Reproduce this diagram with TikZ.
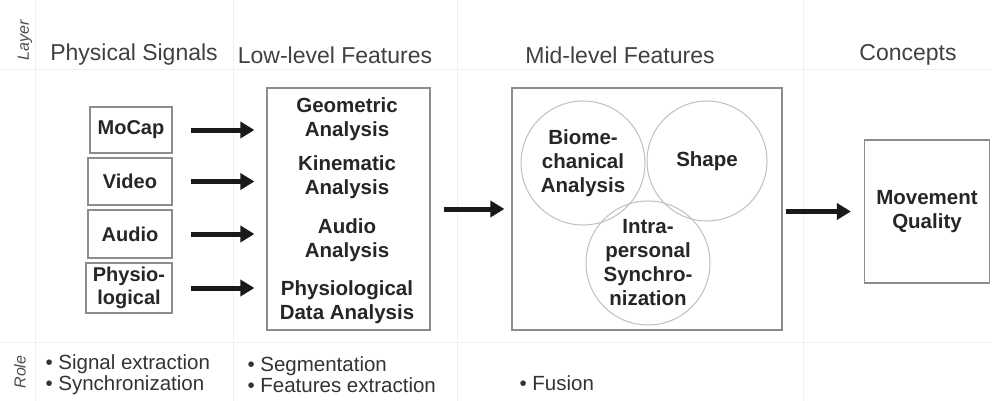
\documentclass[tikz,border=0pt]{standalone}
\usepackage{fontspec}
\setmainfont{Liberation Sans}
\usetikzlibrary{arrows.meta}

\begin{document}
\begin{tikzpicture}[x=1pt, y=-1pt,
    head/.style={font=\fontsize{23}{25}\selectfont, text=black!75},
    sigbox/.style={draw=black!45, line width=1.2pt, inner sep=0pt, align=center, font=\bfseries\fontsize{20}{23}\selectfont, text=black!85},
    feat/.style={align=center, font=\bfseries\fontsize{20.5}{24}\selectfont, text=black!85},
    bigbox/.style={draw=black!45, line width=1.2pt, inner sep=0pt},
    blob/.style={circle, draw=black!25, line width=1pt, inner sep=0pt, minimum size=124pt},
    flow/.style={-{Triangle[length=14pt,width=16pt]}, line width=5pt, black!90},
    role/.style={anchor=west, align=left, font=\fontsize{20.5}{21}\selectfont, text=black!80},
    side/.style={rotate=90, font=\itshape\fontsize{16}{18}\selectfont, text=black!70},
    grid/.style={black!6, line width=1pt}]
    \useasboundingbox (0,0) rectangle (992,401);
    \draw[grid] (0,70) -- (992,70);
    \draw[grid] (0,342) -- (992,342);
    \foreach \gx in {35,233,457,803}
        \draw[grid] (\gx,0) -- (\gx,401);

    \node[side] (layer) at (25,40) {Layer};
    \node[side] (role) at (20,372) {Role};

    \node[head] (hsig) at (134,55) {Physical Signals};
    \node[head] (hlow) at (335,55) {Low-level Features};
    \node[head] (hmid) at (620,55) {Mid-level Features};
    \node[head] (hcon) at (908,55) {Concepts};

    \node[sigbox, minimum width=82pt, minimum height=46pt] (mocap) at (131,130) {MoCap};
    \node[sigbox, minimum width=84pt, minimum height=47pt] (video) at (130,181.5) {Video};
    \node[sigbox, minimum width=84pt, minimum height=48pt] (audio) at (130,234) {Audio};
    \node[sigbox, minimum width=86pt, minimum height=50pt] (physio) at (129,288) {Physio-\\logical};

    \node[bigbox, minimum width=163pt, minimum height=242pt] (low) at (348.5,209) {};
    \node[feat] (geo) at (347,119) {Geometric\\Analysis};
    \node[feat] (kin) at (347,177) {Kinematic\\Analysis};
    \node[feat] (aud) at (347,240) {Audio\\Analysis};
    \node[feat] (phy) at (347,302) {Physiological\\Data Analysis};

    \node[bigbox, minimum width=270pt, minimum height=242pt] (mid) at (647,209) {};
    \node[blob, feat] (bio) at (583,163) {Biome-\\chanical\\Analysis};
    \node[blob, feat, minimum size=120pt] (shape) at (707,161) {Shape};
    \node[blob, feat] (intra) at (648,263) {Intra-\\personal\\Synchro-\\nization};

    \node[bigbox, feat, minimum width=125pt, minimum height=143pt] (quality) at (927,211.5) {Movement\\Quality};

    \foreach \src/\tgt in {mocap/geo, video/kin, audio/aud, physio/phy}
        \draw[flow, shorten <=18pt, shorten >=12pt] (\src.east) -- (\src.east -| low.west);
    \draw[flow, shorten <=13pt, shorten >=7pt] (low.east |- mid.west) -- (mid.west);
    \draw[flow, shorten <=3pt, shorten >=13pt] (mid.east |- quality.west) -- (quality.west);

    \node[role] (rsig) at (42,375) {\textbullet\ Signal extraction\\\textbullet\ Synchronization};
    \node[role] (rlow) at (244,375) {\textbullet\ Segmentation\\\textbullet\ Features extraction};
    \node[role] (rmid) at (516,383) {\textbullet\ Fusion};
\end{tikzpicture}
\end{document}
